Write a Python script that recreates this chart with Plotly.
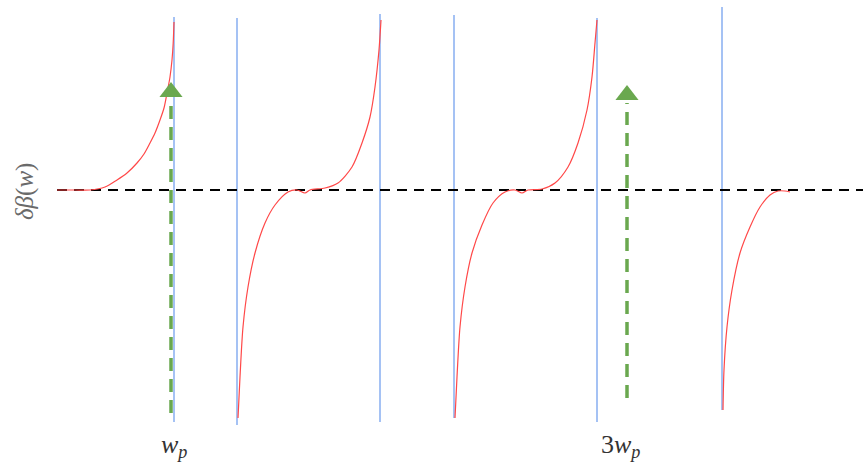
import plotly.graph_objects as go

# Red branches of delta-beta(w): x position, y = offset above the zero line
seg1_x = [57, 75, 90, 105, 117, 127, 137, 144, 150, 155, 160, 164, 167, 170, 172, 173.2, 174]
seg1_y = [0, 0, 0, 3, 10, 17, 27, 36, 47, 57, 70, 82, 97, 113, 130, 147, 168]

seg2_x = [238, 240, 243, 248, 255, 265, 275, 288, 297, 305, 310, 325, 338, 352, 362, 370, 375, 379, 381]
seg2_y = [-228, -187, -137, -97, -63, -33, -15, -2, 0, -3, 0, 2, 7, 23, 47, 73, 103, 140, 170]

seg3_x = [455, 457, 460, 465, 472, 482, 493, 505, 515, 522, 528, 542, 555, 568, 578, 587, 592, 595, 597]
seg3_y = [-228, -187, -137, -97, -63, -35, -13, -2, 0, -3, 0, 1, 7, 23, 47, 80, 113, 147, 170]

seg4_x = [723, 724, 727, 732, 740, 750, 760, 770, 778, 785, 790]
seg4_y = [-220, -180, -137, -100, -63, -37, -17, -5, -1, -1, -2]

# Blue vertical lines (poles): x, top, bottom
pole_x = [174, 237, 380, 454, 597, 722]
pole_top = [173, 172, 176, 175, 172, 183]
pole_bottom = [-232, -235, -232, -228, -232, -220]

# Green pump arrows: x, tail, tip
arrow_x = [171, 627]
arrow_tail = [-223, -208]
arrow_tip = [110, 107]

baseline_x = [57, 863]
tick_x = [174, 620]
tick_text = ["<i>w</i><sub><i>p</i></sub>", "3<i>w</i><sub><i>p</i></sub>"]

fig = go.Figure()

for px, top, bot in zip(pole_x, pole_top, pole_bottom):
    fig.add_trace(go.Scatter(x=[px, px], y=[bot, top], mode="lines",
                             line=dict(color="#8fb3f2", width=1.6), hoverinfo="skip"))

fig.add_trace(go.Scatter(x=baseline_x, y=[0, 0], mode="lines",
                         line=dict(color="black", width=2, dash="10px,7px"), hoverinfo="skip"))

for sx, sy in [(seg1_x, seg1_y), (seg2_x, seg2_y), (seg3_x, seg3_y), (seg4_x, seg4_y)]:
    fig.add_trace(go.Scatter(x=sx, y=sy, mode="lines",
                             line=dict(color="#ff4848", width=1.2, shape="spline", smoothing=0.8),
                             hoverinfo="skip"))

for ax_, tail, tip in zip(arrow_x, arrow_tail, arrow_tip):
    head_len = 20
    fig.add_trace(go.Scatter(x=[ax_, ax_], y=[tail, tip - head_len], mode="lines",
                             line=dict(color="#6aa84f", width=3.5, dash="13px,8px"), hoverinfo="skip"))
    fig.add_trace(go.Scatter(x=[ax_], y=[tip - head_len / 2 - 2], mode="markers",
                             marker=dict(symbol="triangle-up", size=20, color="#6aa84f",
                                         line=dict(width=0)),
                             hoverinfo="skip"))

for tx, tt in zip(tick_x, tick_text):
    fig.add_annotation(x=tx, y=-256, text=tt, showarrow=False,
                       font=dict(family="Liberation Serif", size=26, color="#333333"),
                       xanchor="center", yanchor="middle")

fig.add_annotation(x=25, y=-2, text="<i>δβ</i>(<i>w</i>)", showarrow=False, textangle=-90,
                   font=dict(family="Liberation Serif", size=25, color="#6a6a6a"),
                   xanchor="center", yanchor="middle")

fig.update_layout(
    width=863, height=464,
    margin=dict(l=0, r=0, t=0, b=0),
    showlegend=False,
    plot_bgcolor="white", paper_bgcolor="white",
    xaxis=dict(range=[0, 863], visible=False, fixedrange=True),
    yaxis=dict(range=[-274, 190], visible=False, fixedrange=True),
)

fig.write_html("out.html", config={"displayModeBar": False},
               post_script="document.body.style.margin='0';document.body.style.overflow='hidden';")
